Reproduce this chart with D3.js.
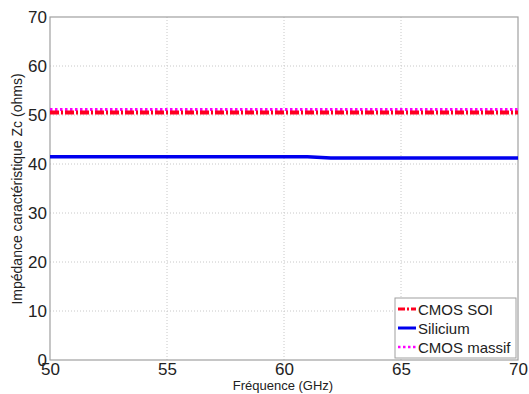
<!DOCTYPE html>
<html><head><meta charset="utf-8">
<script src="https://cdn.jsdelivr.net/npm/d3@7"></script>
<style>body{margin:0;background:#fff}svg{display:block}text{font-family:Arial,"Liberation Sans",sans-serif}</style>
</head><body>
<svg id="c" width="529" height="394"></svg>
<script>
const freq = [50,51,52,53,54,55,56,57,58,59,60,61,62,63,64,65,66,67,68,69,70];
const cmosSOI = [50.5,50.5,50.5,50.5,50.5,50.5,50.5,50.5,50.5,50.5,50.5,50.5,50.5,50.5,50.5,50.5,50.5,50.5,50.5,50.5,50.5];
const silicium = [41.5,41.5,41.5,41.5,41.5,41.5,41.5,41.5,41.5,41.5,41.5,41.5,41.2,41.2,41.2,41.2,41.2,41.2,41.2,41.2,41.2];
const cmosMassif = [51.1,51.1,51.1,51.1,51.1,51.1,51.1,51.1,51.1,51.1,51.1,51.1,51.1,51.1,51.1,51.1,51.1,51.1,51.1,51.1,51.1];
const xTicks = [50,55,60,65,70];
const yTicks = [0,10,20,30,40,50,60,70];
const seriesNames = ["CMOS SOI","Silicium","CMOS massif"];

const svg = d3.select("#c");
const L=50,R=518,T=17,B=360;
const x = d3.scaleLinear().domain([50,70]).range([L,R]);
const y = d3.scaleLinear().domain([0,70]).range([B,T]);

// grid
const g = svg.append("g");
g.selectAll(".gx").data(xTicks.slice(1,-1)).enter().append("line")
 .attr("x1",d=>x(d)).attr("x2",d=>x(d)).attr("y1",T).attr("y2",B)
 .attr("stroke","#c8c8c8").attr("stroke-dasharray","1,2");
g.selectAll(".gy").data(yTicks.slice(1,-1)).enter().append("line")
 .attr("y1",d=>y(d)).attr("y2",d=>y(d)).attr("x1",L).attr("x2",R)
 .attr("stroke","#c8c8c8").attr("stroke-dasharray","1,2");

// box
svg.append("rect").attr("x",L).attr("y",T).attr("width",R-L).attr("height",B-T)
 .attr("fill","none").attr("stroke","#a0a0a0").attr("stroke-width",1.2);

// axes
const xa = svg.append("g").attr("transform",`translate(0,${B})`)
 .call(d3.axisBottom(x).tickValues(xTicks).tickSize(0).tickPadding(3));
xa.select(".domain").remove();
xa.selectAll("text").attr("font-size",17).attr("fill","#222").attr("font-family","Arial,'Liberation Sans',sans-serif");
const ya = svg.append("g").attr("transform",`translate(${L},0)`)
 .call(d3.axisLeft(y).tickValues(yTicks).tickSize(0).tickPadding(3));
ya.select(".domain").remove();
ya.selectAll("text").attr("font-size",17).attr("fill","#222").attr("font-family","Arial,'Liberation Sans',sans-serif");

// lines
const line = vals => d3.line().x((d,i)=>x(freq[i])).y(d=>y(d))(vals);
svg.append("clipPath").attr("id","pc").append("rect").attr("x",L).attr("y",T).attr("width",R-L).attr("height",B-T);
const lg = svg.append("g").attr("clip-path","url(#pc)");
lg.append("path").attr("d",line(silicium)).attr("fill","none").attr("stroke","#0000ee").attr("stroke-width",3.5);
lg.append("path").attr("d",line(cmosMassif)).attr("fill","none").attr("stroke","#ff00ff").attr("stroke-width",3).attr("stroke-dasharray","2.5,2.5");
lg.append("path").attr("d",line(cmosSOI)).attr("fill","none").attr("stroke","#ff0020").attr("stroke-width",4).attr("stroke-dasharray","9,2,2,2");

// axis labels
svg.append("text").attr("x",283).attr("y",390).attr("text-anchor","middle").attr("font-size",13).attr("fill","#222").text("Fréquence (GHz)");
svg.append("text").attr("transform","translate(22,189) rotate(-90)").attr("text-anchor","middle").attr("font-size",14).attr("fill","#222").text("Impédance caractéristique Zc (ohms)");

// legend
const lgx=395, lgy=298;
svg.append("rect").attr("x",lgx).attr("y",lgy).attr("width",121).attr("height",60).attr("fill","#fff").attr("stroke","#a0a0a0");
const styles=[{c:"#ff0020",w:3,d:"7,2,2,2"},{c:"#0000ee",w:3,d:null},{c:"#ff00ff",w:2.5,d:"2.5,2.5"}];
seriesNames.forEach((n,i)=>{
  const yy = lgy+11+i*19;
  const ln = svg.append("line").attr("x1",lgx+3).attr("x2",lgx+21).attr("y1",yy).attr("y2",yy)
   .attr("stroke",styles[i].c).attr("stroke-width",styles[i].w);
  if(styles[i].d) ln.attr("stroke-dasharray",styles[i].d);
  svg.append("text").attr("x",lgx+23).attr("y",yy+5.5).attr("font-size",15).attr("fill","#222").text(n);
});
</script>
</body></html>
